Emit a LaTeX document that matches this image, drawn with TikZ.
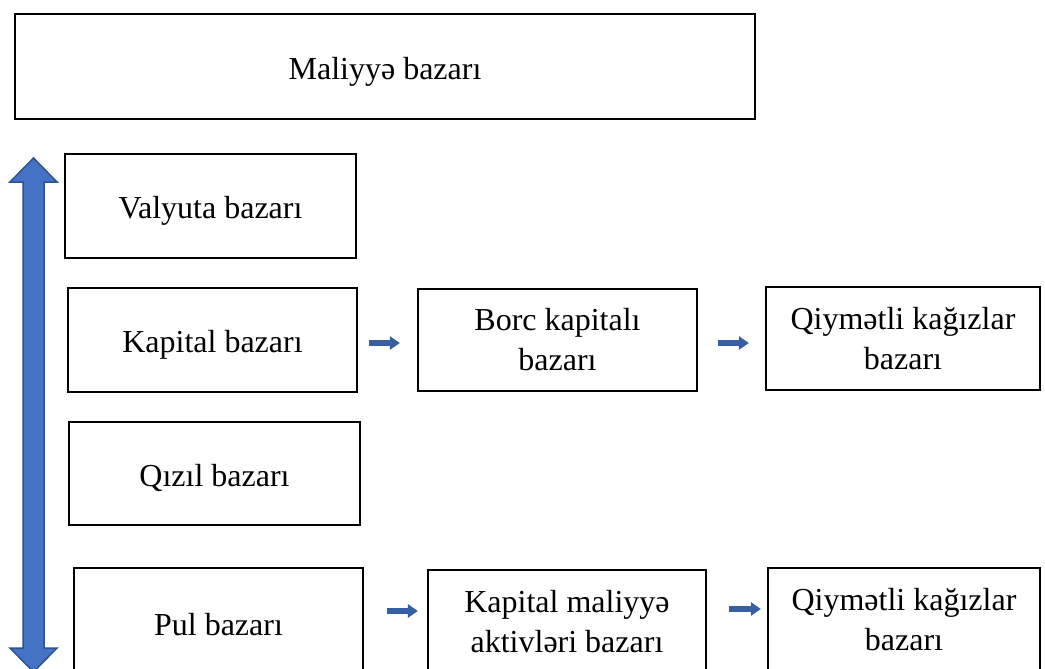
\documentclass[tikz,border=0pt]{standalone}
\usepackage{fontspec}
\setmainfont{Liberation Serif}
\usepackage{tikz}
\usetikzlibrary{positioning, arrows.meta, calc}
\definecolor{fillblue}{RGB}{68,114,196}
\definecolor{edgeblue}{RGB}{47,82,143}

\begin{document}
\begin{tikzpicture}[x=1pt, y=-1pt,
  bx/.style={rectangle, draw=black, line width=2.2pt, fill=white, inner sep=0pt,
    align=center, font=\fontsize{32}{40}\selectfont,
    execute at begin node={\rule{0pt}{32pt}}},
  smarr/.style={-{Triangle[length=10pt, width=13pt]}, line width=6.5pt, draw=edgeblue!60!fillblue},
  bigarr/.style={draw=edgeblue, line width=1.5pt, fill=fillblue, line join=miter},
]
  \useasboundingbox (0,0) rectangle (1045,669);

  % main box
  \node[bx, minimum width=740pt, minimum height=105pt] (mal) at (385,66.5) {Maliyy\char"0259{} bazar\i};

  % left column
  \node[bx, minimum width=291pt, minimum height=104pt] (val) at (210.5,206) {Valyuta bazar\i};
  \node[bx, minimum width=289pt, minimum height=104pt] (kap) at (212.5,340) {Kapital bazar\i};
  \node[bx, minimum width=291pt, minimum height=103pt] (qiz) at (214.5,473.5) {Q\i z\i l bazar\i};
  \node[bx, minimum width=289pt, minimum height=104pt] (pul) at (218.5,620) {Pul bazar\i};

  % right side
  \node[bx, minimum width=279pt, minimum height=102pt] (borc) at (557.5,340) {Borc kapital\i\\bazar\i};
  \node[bx, minimum width=274pt, minimum height=103pt] (qiy1) at (903,338.5) {Qiym\char"0259tli ka\u{g}\i zlar\\bazar\i};
  \node[bx, minimum width=278pt, minimum height=104pt] (akt) at (567,622) {Kapital maliyy\char"0259\\aktivl\char"0259ri bazar\i};
  \node[bx, minimum width=272pt, minimum height=104pt] (qiy2) at (904,620) {Qiym\char"0259tli ka\u{g}\i zlar\\bazar\i};

  % small arrows
  \draw[smarr, shorten <=11pt, shorten >=17pt] ([yshift=-3pt]kap.east) -- ([yshift=-3pt]kap.east -| borc.west);
  \draw[smarr, shorten <=20pt, shorten >=16pt] ([yshift=-3pt]borc.east) -- ([yshift=-3pt]borc.east -| qiy1.west);
  \draw[smarr, shorten <=23pt, shorten >=9pt] ([yshift=9pt]pul.east) -- ([yshift=9pt]pul.east -| akt.west);
  \draw[smarr, shorten <=22pt, shorten >=6pt] ([yshift=13pt]akt.east) -- ([yshift=13pt]akt.east -| qiy2.west);

  % double block arrow on the left
  \draw[bigarr] (33.5,158) -- (57,182) -- (44,182) -- (44,648) -- (57,648) -- (33.5,672)
    -- (10,648) -- (23,648) -- (23,182) -- (10,182) -- cycle;
\end{tikzpicture}
\end{document}
